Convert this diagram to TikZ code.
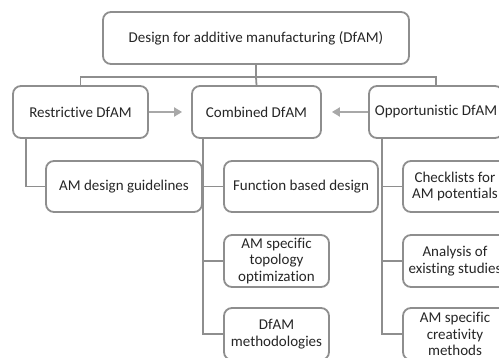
\documentclass[tikz,border=0pt]{standalone}
\usepackage{fontspec}
\setmainfont[Ligatures=NoCommon]{Carlito}
\usetikzlibrary{arrows.meta}
\definecolor{edge}{HTML}{8E8E8E}
\definecolor{arrowgray}{HTML}{A8A8A8}
\definecolor{ink}{HTML}{262626}
\tikzset{
  box/.style={draw=edge, line width=1.8pt, rounded corners=8pt, fill=white,
    align=center, text=ink, inner sep=0pt, font=\fontsize{15}{16.6}\selectfont},
  link/.style={draw=edge, line width=1.8pt},
  flow/.style={draw=arrowgray, line width=2pt, -{Triangle[length=8pt,width=9pt]}},
}
\begin{document}
\begin{tikzpicture}[x=1pt, y=-1pt]
\useasboundingbox (0,0) rectangle (499,358);
% top level
\node[box, minimum width=306pt, minimum height=52pt] (top) at (256,38) {Design for additive manufacturing (DfAM)};
% three approaches
\node[box, minimum width=135pt, minimum height=52pt] (rest) at (80.5,112) {Restrictive DfAM};
\node[box, minimum width=129pt, minimum height=52pt] (comb) at (256.5,112) {Combined DfAM};
\node[box, minimum width=134pt, minimum height=52pt] (opp) at (436,112) {Opportunistic DfAM};
% restrictive branch
\node[box, minimum width=156pt, minimum height=51pt] (guide) at (124,186.5) {AM design guidelines};
% combined branch
\node[box, minimum width=154pt, minimum height=51pt] (func) at (301,186.5) {Function based design};
\node[box, minimum width=105pt, minimum height=52pt] (topo) at (276.5,261) {AM specific\\topology\\optimization};
\node[box, minimum width=105pt, minimum height=52pt] (meth) at (276.5,334) {DfAM\\methodologies};
% opportunistic branch
\node[box, minimum width=104pt, minimum height=51pt] (check) at (455,186.5) {Checklists for\\AM potentials};
\node[box, minimum width=104pt, minimum height=52pt] (anal) at (455,261) {Analysis of\\existing studies};
\node[box, minimum width=104pt, minimum height=52pt] (creat) at (455,334) {AM specific\\creativity\\methods};
% tree from the top box
\coordinate (bus) at (256,77);
\draw[link] (top.south) -- (bus);
\draw[link] (rest.north) |- (bus) -| (opp.north);
\draw[link] (bus) -- (comb.north);
% trunks to sub-items
\draw[link] ([xshift=14pt]rest.south west) |- (guide.west);
\draw[link] ([xshift=12pt]comb.south west) |- (func.west);
\draw[link] ([xshift=12pt]comb.south west) |- (topo.west);
\draw[link] ([xshift=12pt]comb.south west) |- (meth.west);
\draw[link] ([xshift=14pt]opp.south west) |- (check.west);
\draw[link] ([xshift=14pt]opp.south west) |- (anal.west);
\draw[link] ([xshift=14pt]opp.south west) |- (creat.west);
% arrows toward the combined approach
\draw[flow, shorten >=9pt] (rest.east) -- (comb.west);
\draw[flow, shorten >=10pt] (opp.west) -- (comb.east);
\end{tikzpicture}
\end{document}
